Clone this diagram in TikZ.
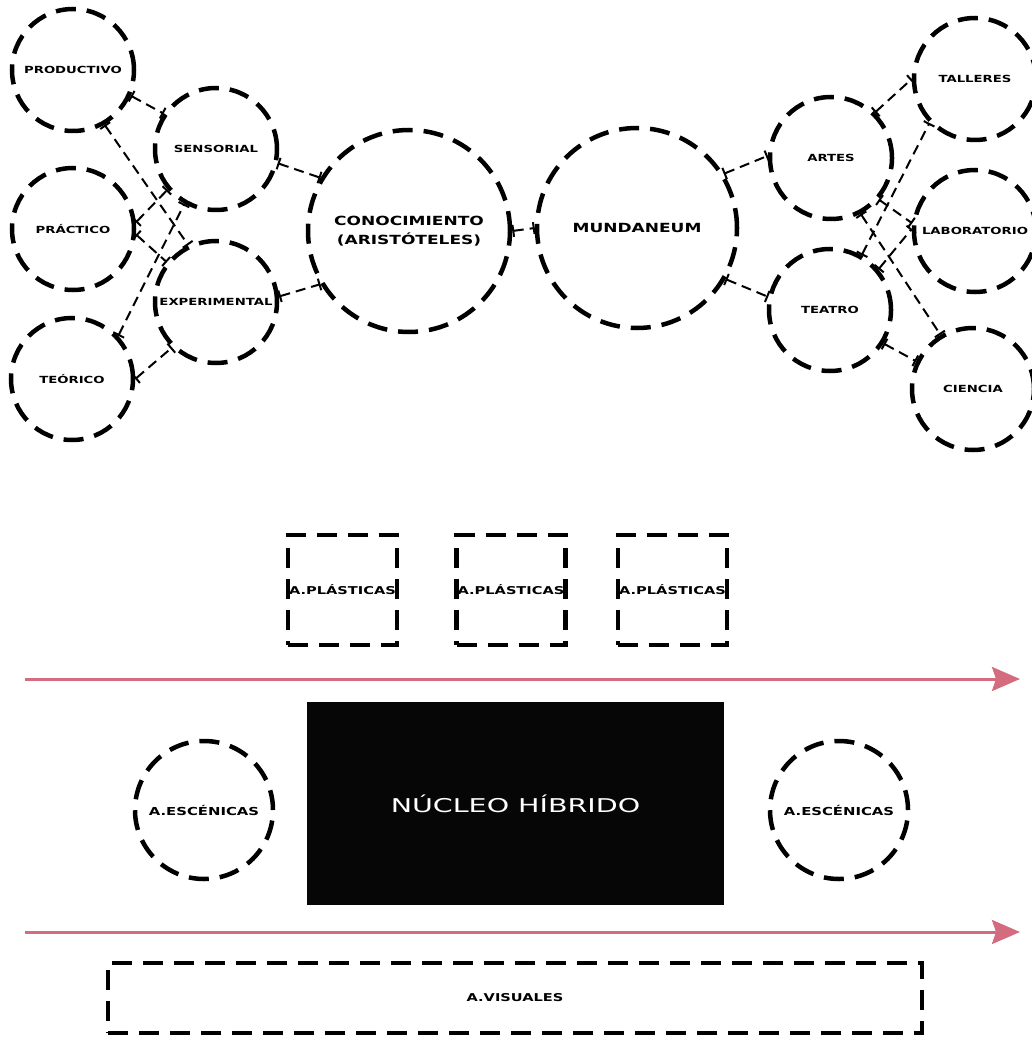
\documentclass[tikz,border=0pt]{standalone}
\usepackage{fontspec}
\usetikzlibrary{arrows.meta}
\newfontfamily\lblfont[FakeStretch=1.35]{DejaVu Sans}
\newfontfamily\corefont[FakeStretch=1.5]{DejaVu Sans}
\definecolor{flowred}{RGB}{212,108,128}
\definecolor{corefill}{RGB}{6,6,6}

\tikzset{
  dashring/.style={line width=4.5pt, dash pattern=on 20pt off 11pt},
  bubble/.style={circle, draw, dashring, inner sep=0pt, minimum size=#1,
    font=\lblfont\bfseries\fontsize{9.8}{11}\selectfont, align=center},
  bubble/.default=122pt,
  bigbubble/.style={bubble=#1, font=\lblfont\bfseries\fontsize{12.6}{19}\selectfont},
  dashbox/.style={draw, dashring, inner sep=0pt, minimum width=#1,
    font=\lblfont\bfseries\fontsize{10.8}{12}\selectfont},
  link/.style={draw, line width=2pt, dash pattern=on 10pt off 6pt,
    {Bar[width=12pt]}-{Bar[width=12pt]}},
  flow/.style={draw=flowred, line width=3pt,
    -{Stealth[length=28pt,width=24pt,inset=4pt]}, color=flowred},
}

\begin{document}
\begin{tikzpicture}[x=1pt,y=-1pt]
\useasboundingbox (0,0) rectangle (1031,1040);

% --- knowledge cluster (left) ---
\node[bubble] (prod)  at (73,70)   {PRODUCTIVO};
\node[bubble] (sens)  at (216,149) {SENSORIAL};
\node[bubble] (prac)  at (73,229)  {PRÁCTICO};
\node[bubble] (exper) at (216,302) {EXPERIMENTAL};
\node[bubble] (teor)  at (72,379)  {TEÓRICO};

% --- central pair ---
\node[bigbubble=202pt] (conoc) at (409,231) {CONOCIMIENTO\\(ARISTÓTELES)};
\node[bigbubble=200pt] (mund)  at (637,228) {MUNDANEUM};

% --- activity cluster (right) ---
\node[bubble] (artes)    at (831,158) {ARTES};
\node[bubble] (teatro)   at (830,310) {TEATRO};
\node[bubble] (talleres) at (975,79)  {TALLERES};
\node[bubble] (lab)      at (975,231) {LABORATORIO};
\node[bubble] (ciencia)  at (973,389) {CIENCIA};

% --- links ---
\draw[link] (prod.-24)  -- (sens.146);
\draw[link] (prod.-60)  -- (exper.116);
\draw[link] (prac.6)    -- (sens.220);
\draw[link] (prac.-5)   -- (exper.141);
\draw[link] (teor.43)   -- (sens.240);
\draw[link] (teor.0)    -- (exper.226);
\draw[link] (sens.-13)  -- (conoc.149);
\draw[link] (exper.5)   -- (conoc.211);
\draw[link] (conoc.east) -- (mund.west);
\draw[link] (mund.32)   -- (artes.178);
\draw[link] (mund.-30)  -- (teatro.168);
\draw[link] (artes.46)  -- (talleres.180);
\draw[link] (artes.-41) -- (lab.173);
\draw[link] (artes.-62) -- (ciencia.121);
\draw[link] (teatro.60) -- (talleres.224);
\draw[link] (teatro.40) -- (lab.178);
\draw[link] (teatro.-32) -- (ciencia.154);

% --- plan scheme ---
\node[dashbox=109pt, minimum height=110pt] (pl1) at (342.5,590) {A.PLÁSTICAS};
\node[dashbox=109pt, minimum height=110pt] (pl2) at (511,590)   {A.PLÁSTICAS};
\node[dashbox=109pt, minimum height=110pt] (pl3) at (672.5,590) {A.PLÁSTICAS};

\coordinate (f1s) at (25,679);
\coordinate (f1e) at (1020,679);
\draw[flow] (f1s) -- (f1e);

\node[fill=corefill, minimum width=417pt, minimum height=203pt, inner sep=0pt,
      text=white, font=\corefont\fontsize{19}{21}\selectfont]
      (core) at (515.5,803.5) {NÚCLEO HÍBRIDO};

\node[bubble=138pt, font=\lblfont\bfseries\fontsize{11}{12}\selectfont] (esc1) at (204,810) {A.ESCÉNICAS};
\node[bubble=138pt, font=\lblfont\bfseries\fontsize{11}{12}\selectfont] (esc2) at (839,810) {A.ESCÉNICAS};

\coordinate (f2s) at (25,932);
\coordinate (f2e) at (1020,932);
\draw[flow] (f2s) -- (f2e);

\node[dashbox=814pt, minimum height=70pt] (vis) at (515,998) {A.VISUALES};
\end{tikzpicture}
\end{document}
